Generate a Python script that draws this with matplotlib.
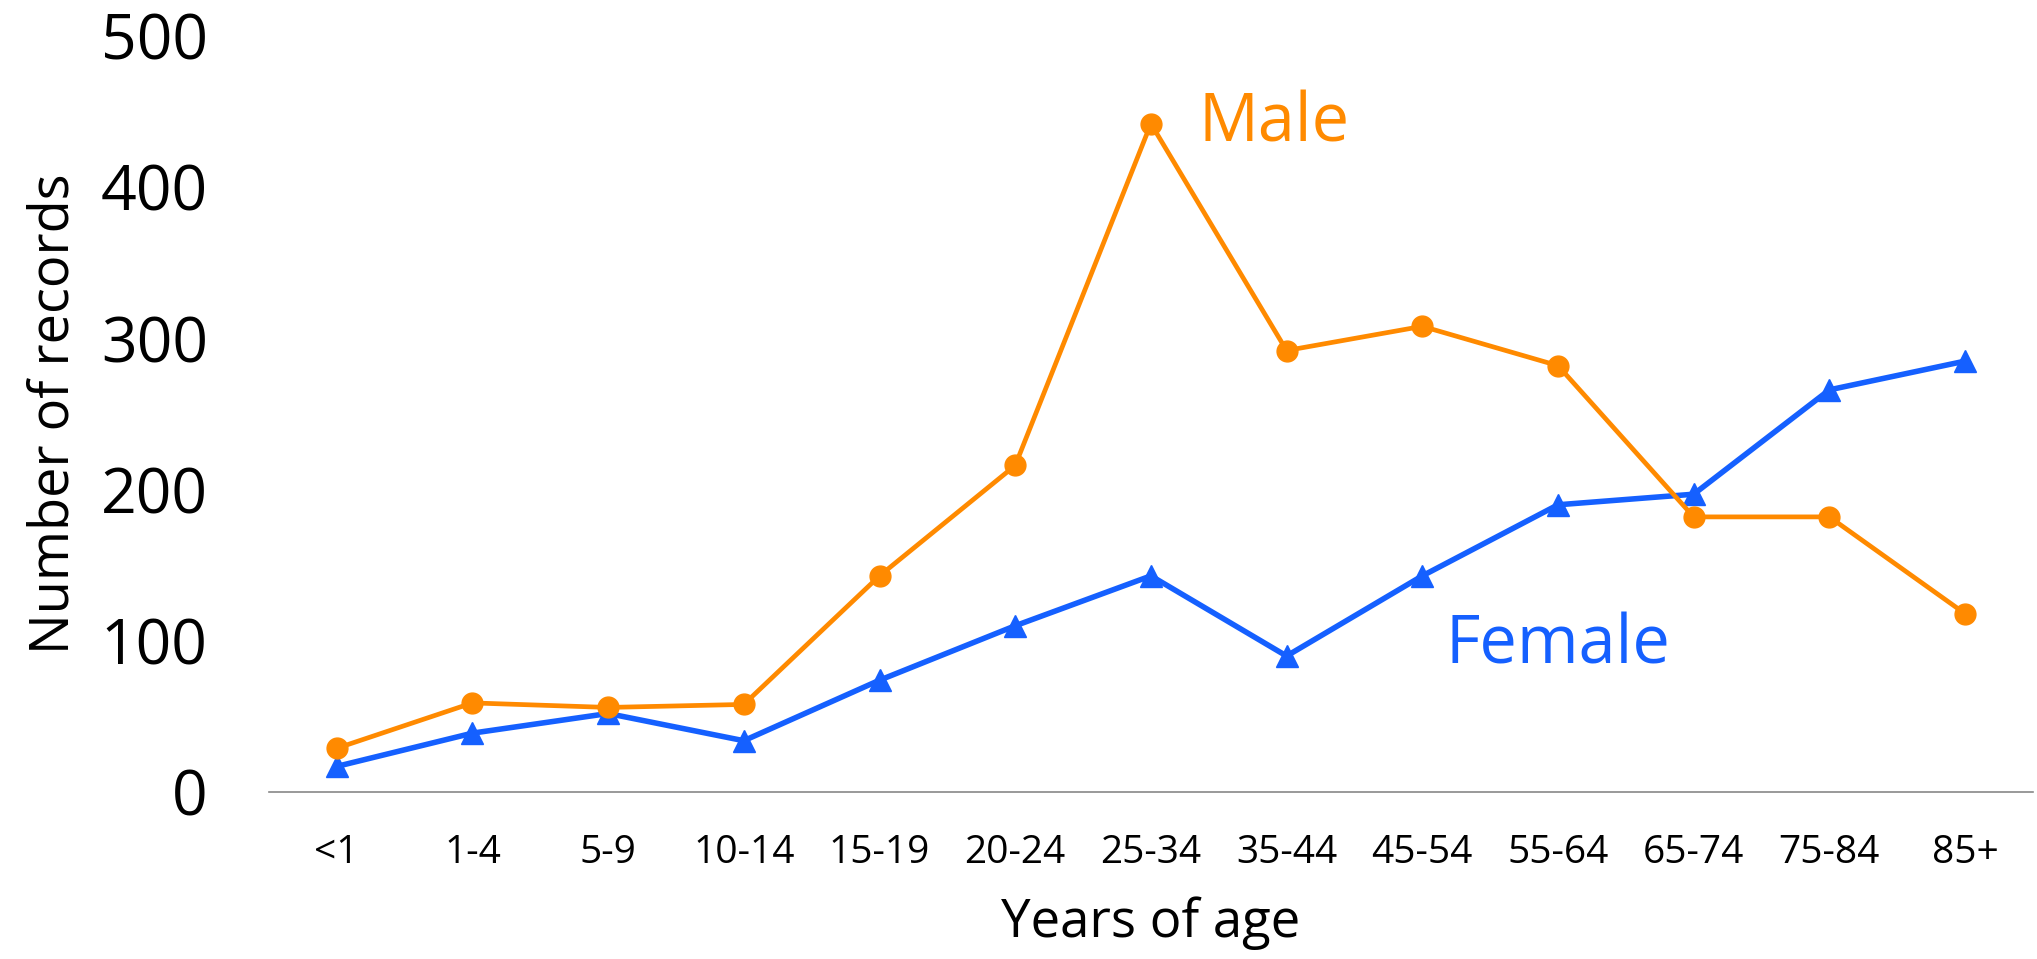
import matplotlib
matplotlib.use("Agg")
import matplotlib.pyplot as plt
import numpy as np

plt.rcParams["font.family"] = ["Open Sans", "DejaVu Sans"]

age_groups = ["<1", "1-4", "5-9", "10-14", "15-19", "20-24", "25-34",
              "35-44", "45-54", "55-64", "65-74", "75-84", "85+"]
male = [29, 59, 56, 58, 143, 216, 442, 292, 308, 282, 182, 182, 118]
female = [17, 39, 52, 34, 74, 110, 143, 90, 143, 190, 197, 266, 285]
y_ticks = [0, 100, 200, 300, 400, 500]

orange = "#FF8A00"
blue = "#1560FF"

fig = plt.figure(figsize=(20.37, 9.59), dpi=100)
ax = fig.add_axes([0.132, 0.174, 0.866, 0.7885])

x = np.arange(len(age_groups))
ax.plot(x, male, color=orange, lw=3.4, marker="o", ms=15, clip_on=False, zorder=3)
ax.plot(x, female, color=blue, lw=4.0, marker="^", ms=16, clip_on=False, zorder=2)

ax.set_xlim(-0.5, len(age_groups) - 0.5)
ax.set_ylim(0, 500)
ax.set_xticks(x)
ax.set_xticklabels(age_groups, fontsize=28)
ax.set_yticks(y_ticks)
ax.set_yticklabels([str(v) for v in y_ticks], fontsize=45)
ax.tick_params(axis="x", length=0, pad=30)
ax.tick_params(axis="y", length=0, pad=44)

for side in ["top", "right", "left"]:
    ax.spines[side].set_visible(False)
ax.spines["bottom"].set_color("#888888")
ax.spines["bottom"].set_linewidth(1.2)

ax.set_xlabel("Years of age", fontsize=38)
ax.xaxis.set_label_coords(0.5, -0.1376)
ax.set_ylabel("Number of records", fontsize=39)
ax.yaxis.set_label_coords(-0.106, 0.5)

ax.text(6.35, 442, "Male", color=orange, fontsize=48, ha="left", va="center")
ax.text(8.17, 97, "Female", color=blue, fontsize=48, ha="left", va="center")

fig.savefig("out.png", dpi=100)
